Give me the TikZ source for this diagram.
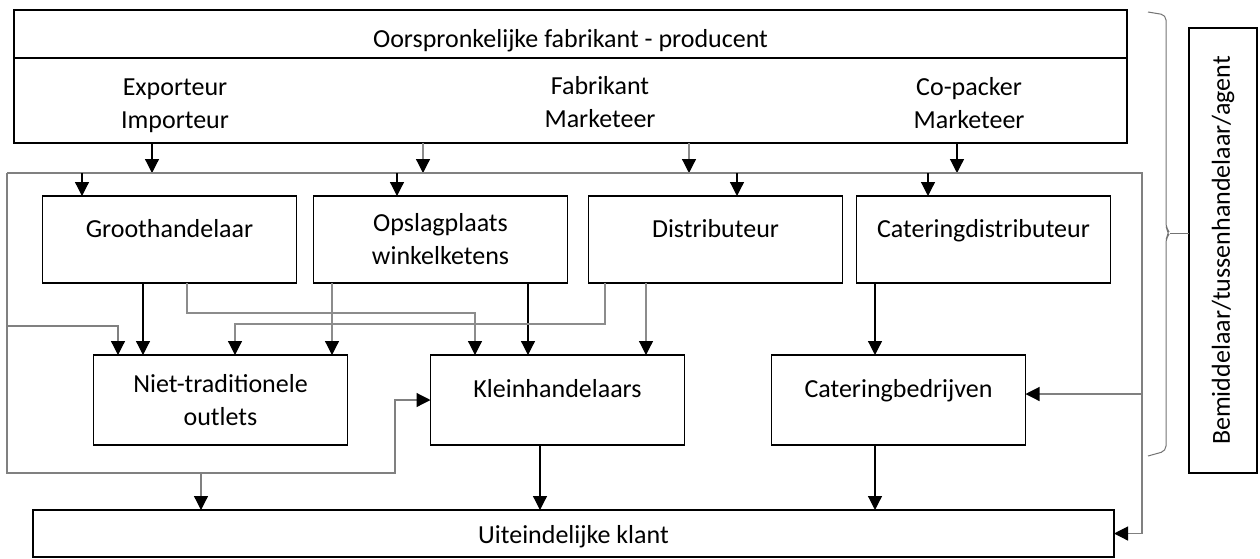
\documentclass[tikz,border=0pt]{standalone}
\usepackage{fontspec}
\setmainfont{Carlito}
\usetikzlibrary{positioning, arrows.meta}
\begin{document}
\begin{tikzpicture}[x=1pt, y=-1pt, font=\fontsize{26pt}{33pt}\selectfont,
		vak/.style = {draw, line width=1.6pt, inner sep=0pt, outer sep=0pt, minimum width=254pt, align=center},
		rij1/.style = {vak, minimum height=87pt},
		rij2/.style = {vak, minimum height=90pt},
		een/.style = {text height=18pt, text depth=23pt},
		zwart/.style = {line width=1.2pt, -{Triangle[width=14pt, length=14pt, color=black]}},
		grijs/.style = {zwart, draw=black!45},
		kader/.style = {zwart, draw=black!50},
		accolade/.style = {line width=1pt, draw=black!55, rounded corners=5pt}]
		\useasboundingbox (0,0) rectangle (1260,558);
		
		\node[vak, minimum width=1113pt, minimum height=48pt, text height=26pt, text depth=0pt] (titel) at (570.5,34) {Oorspronkelijke fabrikant - producent};
		\node[vak, minimum width=1113pt, minimum height=85pt] (bron) at (570.5,100.5) {};
		\node[align=center] (exp) at (175,106) {Exporteur\\Importeur};
		\node[align=center] (fab) at (600,102) {Fabrikant\\Marketeer};
		\node[align=center] (cop) at (969,103) {Co-packer\\Marketeer};
		
		\node[rij1, een] (groot) at (169.5,239.5) {Groothandelaar};
		\node[rij1] (opslag) [right=17pt of groot] {Opslagplaats\\winkelketens};
		\node[rij1, een] (distrib) [right=21pt of opslag] {Distributeur};
		\node[rij1, een] (catdist) [right=14pt of distrib] {Cateringdistributeur};
		
		\node[rij2] (niet) at (220.5,400) {Niet-traditionele\\outlets};
		\node[rij2, een] (klein) [right=83pt of niet] {Kleinhandelaars};
		\node[rij2, een] (catbed) [right=87pt of klein] {Cateringbedrijven};
		
		\node[vak, minimum width=1081pt, minimum height=47pt, text height=20pt, text depth=0pt] (uit) at (573.5,533.5) {Uiteindelijke klant};
		\node[vak, minimum width=68pt, minimum height=445pt] (agent) at (1223,250.5) {\rotatebox{90}{Bemiddelaar/tussenhandelaar/agent}};
		
		\coordinate (kl) at (7,173);
		\coordinate (kr) at (1142,173);
		\coordinate (lo) at (7,473);
		\coordinate (zij) at (7,326);
		\coordinate (punt) at (1170,233);
		
		\draw[zwart] ([xshift=-418.5pt]bron.south) -- ([xshift=-418.5pt]bron.south |- kl);
		\draw[grijs] ([xshift=-147.5pt]bron.south) -- ([xshift=-147.5pt]bron.south |- kl);
		\draw[grijs] ([xshift=118.5pt]bron.south) -- ([xshift=118.5pt]bron.south |- kl);
		\draw[zwart] ([xshift=386.5pt]bron.south) -- ([xshift=386.5pt]bron.south |- kl);
		
		\draw[kader] (kl) -- (kr) -- (kr |- uit.east) -- (uit.east);
		\draw[kader] ([yshift=6pt]kr |- catbed.east) -- ([yshift=6pt]catbed.east);
		\draw[kader] (kl) -- (lo) -- ([xshift=-35.5pt]klein.west |- lo) -- ([xshift=-35.5pt]klein.west) -- (klein.west);
		\draw[kader] (zij) -- ([xshift=-102.5pt]niet.north |- zij) -- ([xshift=-102.5pt]niet.north);
		\draw[kader] ([xshift=-372.5pt]uit.north |- lo) -- ([xshift=-372.5pt]uit.north);
		
		\draw[zwart] ([xshift=-87.5pt]groot.north |- kl) -- ([xshift=-87.5pt]groot.north);
		\draw[zwart] ([xshift=-43.5pt]opslag.north |- kl) -- ([xshift=-43.5pt]opslag.north);
		\draw[zwart] ([xshift=21.5pt]distrib.north |- kl) -- ([xshift=21.5pt]distrib.north);
		\draw[zwart] ([xshift=-55.5pt]catdist.north |- kl) -- ([xshift=-55.5pt]catdist.north);
		
		\draw[zwart] ([xshift=-26.5pt]groot.south) -- ([xshift=-26.5pt]groot.south |- niet.north);
		\draw[grijs] ([xshift=17.5pt]groot.south) -- ++(0,30) -| ([xshift=-82.5pt]klein.north);
		\draw[grijs] ([xshift=-108.5pt]opslag.south) -- ([xshift=-108.5pt]opslag.south |- niet.north);
		\draw[zwart] ([xshift=87.5pt]opslag.south) -- ([xshift=87.5pt]opslag.south |- klein.north);
		\draw[grijs] ([xshift=-110.5pt]distrib.south) -- ++(0,41) -| ([xshift=14.5pt]niet.north);
		\draw[grijs] ([xshift=-69.5pt]distrib.south) -- ([xshift=-69.5pt]distrib.south |- klein.north);
		\draw[zwart] ([xshift=-23.5pt]catbed.north |- catdist.south) -- ([xshift=-23.5pt]catbed.north);
		
		\draw[zwart] ([xshift=-17.5pt]klein.south) -- ([xshift=-17.5pt]klein.south |- uit.north);
		\draw[zwart] ([xshift=-23.5pt]catbed.south) -- ([xshift=-23.5pt]catbed.south |- uit.north);
		
		\draw[accolade] (1148,12) -- (1166,15) -- (1166,228) -- (punt) -- (1166,238) -- (1166,451) -- (1148,456);
		\draw[accolade] (punt) -- (agent.west |- punt);
	\end{tikzpicture}
\end{document}
